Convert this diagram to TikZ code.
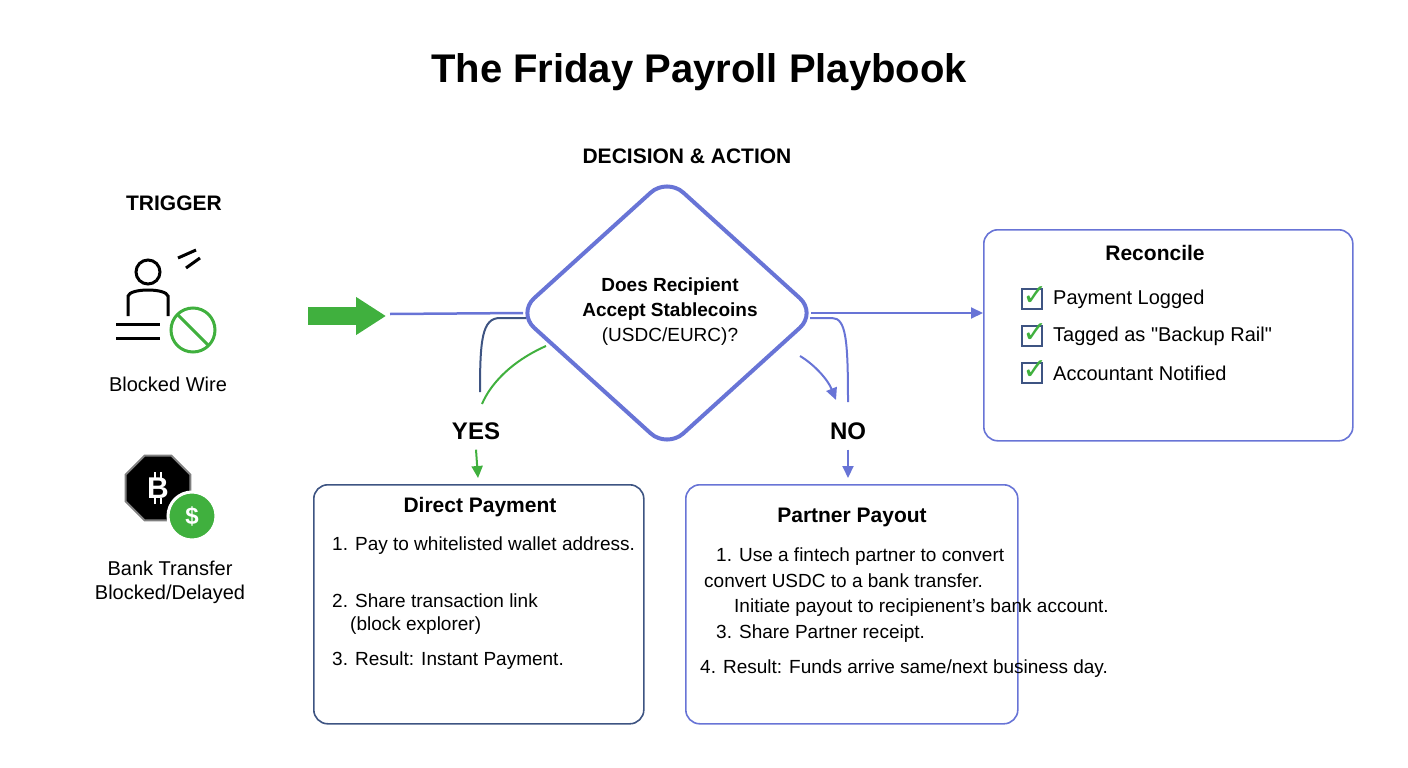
\documentclass[tikz,border=0pt]{standalone}
\usepackage{fontspec}
\setmainfont{Liberation Sans}
\newfontfamily\symfont{DejaVu Sans}
\usetikzlibrary{positioning}
\usetikzlibrary{calc}
\usetikzlibrary{arrows.meta}
\usetikzlibrary{shapes.geometric}
\definecolor{flowblue}{RGB}{104,116,214}
\definecolor{darkblue}{RGB}{62,84,130}
\definecolor{okgreen}{RGB}{64,176,62}
\tikzset{
  card/.style={draw, rounded corners=14pt, line width=1.6pt, anchor=north west},
  body/.style={font=\fontsize{19}{23}\selectfont, align=left, anchor=north west, inner sep=0pt},
  head/.style={font=\bfseries\fontsize{21}{25}\selectfont, inner sep=0pt},
  lbl/.style={font=\fontsize{20}{24}\selectfont, inner sep=0pt},
  arr/.style={-{Triangle[length=12pt,width=11pt]}, line width=2pt}
}
\begin{document}
\begin{tikzpicture}[x=1pt, y=-1pt]
    \useasboundingbox (0,0) rectangle (1408,768);
    \node [font=\bfseries\fontsize{40}{46}\selectfont] (title) at (699,72) {The Friday Payroll Playbook};
    \node [head] (trig_head) at (174,203) {TRIGGER};
    \node [head] (dec_head) at (687,156) {DECISION \& ACTION};

    % trigger icons
    \draw [line width=3pt] (148,272) circle (12);
    \draw [line width=3pt] (128,316) -- (128,296) .. controls (130,288) and (166,288) .. (168,296) -- (168,316);
    \draw [line width=3pt] (116,324) -- (160,324) (116,338) -- (160,338);
    \draw [line width=3pt] (178,258) -- (196,250) (186,268) -- (200,258);
    \draw [okgreen, line width=3pt] (193,330) circle (22);
    \draw [okgreen, line width=3pt] (178,315) -- (208,345);
    \node [lbl] (wire_lbl) at (168,384) {Blocked Wire};
    \node [draw=gray, fill=black, regular polygon, regular polygon sides=8, minimum size=70pt, line width=2pt, text=white, font=\bfseries\fontsize{30}{30}\selectfont] (btc) at (158,488) {B};
    \draw [white, line width=2.5pt] ([xshift=-3pt,yshift=-16pt]btc.center) -- ++(0,-6) ([xshift=3pt,yshift=-16pt]btc.center) -- ++(0,-6)
      ([xshift=-3pt,yshift=16pt]btc.center) -- ++(0,6) ([xshift=3pt,yshift=16pt]btc.center) -- ++(0,6);
    \node [draw=white, fill=okgreen, circle, minimum size=48pt, line width=3pt, text=white, font=\bfseries\fontsize{24}{26}\selectfont] (usd) at (192,516) {\$};
    \node [lbl, align=center] (bank_lbl) at (170,582) {Bank Transfer\\Blocked/Delayed};

    % decision
    \node [draw=flowblue, diamond, minimum width=300pt, minimum height=272pt, line width=4pt, rounded corners=22pt] (dec) at (667,313) {};
    \node [align=center, font=\fontsize{19}{25}\selectfont, inner sep=0pt] (dec_txt) at (670,312) {\textbf{Does Recipient}\\\textbf{Accept Stablecoins}\\(USDC/EURC)?};
    \draw [okgreen, -{Triangle[length=30pt,width=36pt]}, line width=18pt] (308,316) -- (386,316);
    \coordinate (line_w) at (390,314);
    \draw [flowblue, line width=2.5pt] (line_w) -- ([xshift=8pt]dec.west);

    % reconcile
    \node [card, draw=flowblue, minimum width=369pt, minimum height=211pt] (rec) at (983,229) {};
    \node [head] (rec_head) at (1155,253) {Reconcile};
    \foreach \i/\t in {0/Payment Logged, 1/Tagged as \textquotedbl Backup Rail\textquotedbl, 2/Accountant Notified} {
      \node [draw=darkblue, line width=1.5pt, minimum size=20pt, inner sep=0pt] (chk\i) at (1032,299+37*\i) {};
      \node [text=okgreen, font=\bfseries\fontsize{30}{30}\selectfont, inner sep=0pt] at (1035,296+37*\i) {\symfont ✓};
      \node [lbl, anchor=west] at (1053,299+37*\i) {\t};
    }
    \draw [flowblue, arr] ([xshift=-8pt]dec.east) -- (rec.west |- dec.east);

    % branches
    \node [lbl, font=\bfseries\fontsize{24}{28}\selectfont] (yes) at (476,431) {YES};
    \node [lbl, font=\bfseries\fontsize{24}{28}\selectfont] (no) at (848,431) {NO};
    \draw [darkblue, line width=2pt] (526,318) -- (500,318) .. controls (482,318) and (480,340) .. (480,392);
    \draw [okgreen, line width=2pt] (546,346) .. controls (510,362) and (490,385) .. (482,404);
    \draw [flowblue, arr] (800,356) .. controls (815,365) and (828,380) .. (836,400);
    \draw [flowblue, line width=2pt] (810,318) -- (832,318) .. controls (846,318) and (848,340) .. (848,402);
    \draw [okgreen, arr] (yes.south) ++(0,10) -- (478,478);
    \draw [flowblue, arr] (no.south) ++(0,10) -- (848,478);

    % direct payment
    \node [card, draw=darkblue, minimum width=330pt, minimum height=239pt] (direct) at (313,484) {};
    \node [head] (direct_head) at (480,507) {Direct Payment};
    \node [body] (d1) at (332,537) {1. Pay to whitelisted wallet address.};
    \node [body] (d2) at (332,594) {2. Share transaction link\\\hspace*{18pt}(block explorer)};
    \node [body] (d3) at (332,652) {3. Result: Instant Payment.};

    % partner payout
    \node [card, draw=flowblue, minimum width=332pt, minimum height=239pt] (partner) at (685,484) {};
    \node [head] (partner_head) at (852,517) {Partner Payout};
    \node [body, font=\fontsize{19}{25.5}\selectfont] (p1) at (704,548) {\hspace*{12pt}1. Use a fintech partner to convert\\convert USDC to a bank transfer.\\\hspace*{30pt}Initiate payout to recipienent’s bank account.\\\hspace*{12pt}3. Share Partner receipt.};
    \node [body] (p4) at (700,660) {4. Result: Funds arrive same/next business day.};
\end{tikzpicture}
\end{document}
